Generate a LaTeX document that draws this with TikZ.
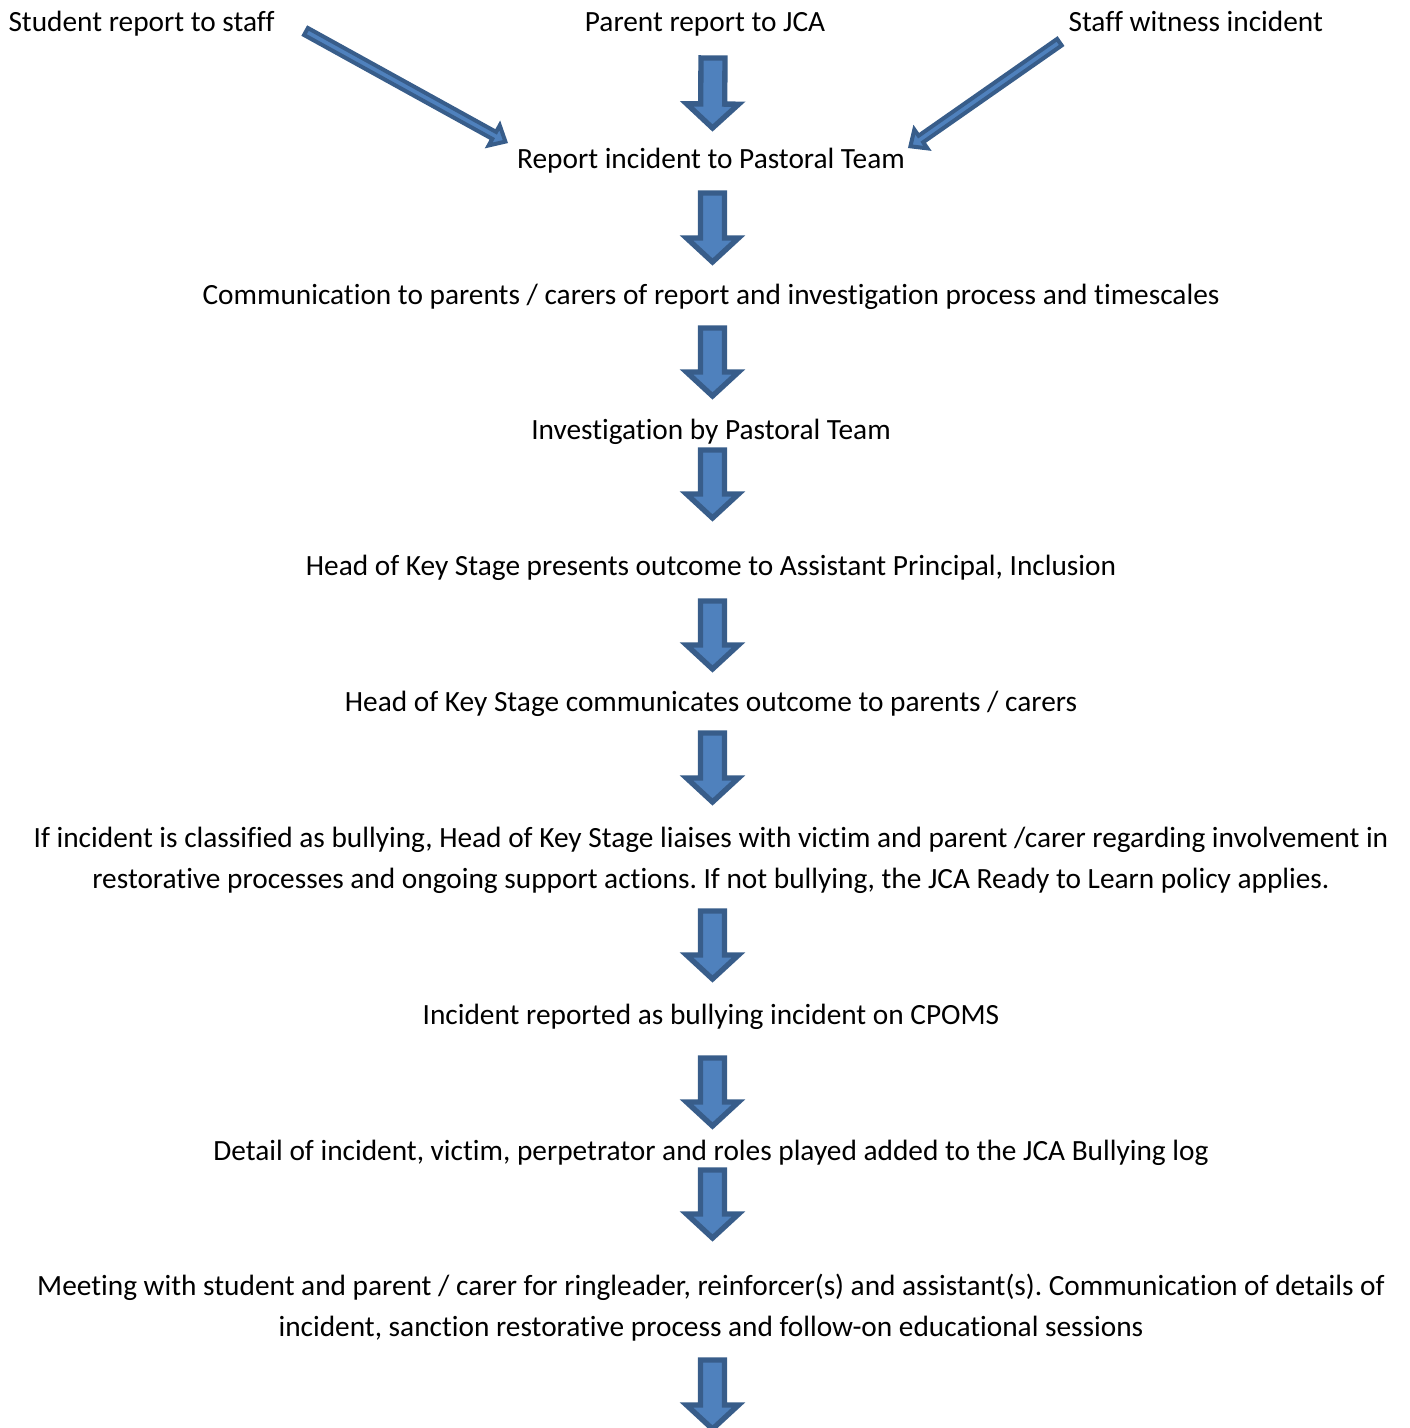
\documentclass[tikz,border=0pt]{standalone}
\usepackage{fontspec}
\setmainfont{Carlito}[Ligatures=NoCommon]
\usepackage{tikz}
\usetikzlibrary{calc}
\definecolor{arrowfill}{HTML}{4F81BD}
\definecolor{arrowline}{HTML}{385D8A}
\def\arrsw{4.5pt}
\def\arrhw{9.75pt}
\def\arrhl{9pt}
\frenchspacing
\tikzset{
	txt/.style={font=\fontsize{11}{15.375}\selectfont, inner sep=0pt, align=center, anchor=base},
	blk/.style={draw=arrowline, fill=arrowfill, line width=2pt, line join=miter,
		to path={let \p1=(\tikztostart), \p2=(\tikztotarget),
			\n1={atan2(\y2-\y1,\x2-\x1)}, \n2={\n1+90} in
			($(\p1)+(\n2:\arrsw)$)
			-- ($(\p2)+(\n1:-\arrhl)+(\n2:\arrsw)$)
			-- ($(\p2)+(\n1:-\arrhl)+(\n2:\arrhw)$)
			-- (\p2)
			-- ($(\p2)+(\n1:-\arrhl)+(\n2:-\arrhw)$)
			-- ($(\p2)+(\n1:-\arrhl)+(\n2:-\arrsw)$)
			-- ($(\p1)+(\n2:-\arrsw)$) -- cycle}},
	thin/.style={line width=1.5pt, /utils/exec={\def\arrsw{1.5pt}\def\arrhw{4.3pt}\def\arrhl{4.8pt}}}
}
\begin{document}
\begin{tikzpicture}[x=0.375pt, y=-0.375pt]
	\useasboundingbox (0,0) rectangle (1410,1428);
	\clip (0,0) rectangle (1410,1428);
	\node[txt, anchor=base west] (r0a) at (8,31) {Student report to staff};
	\node[txt] (r0b) at (705,31) {Parent report to JCA};
	\node[txt, anchor=base west] (r0c) at (1068,31) {Staff witness incident};
	\node[txt] (r1) at (711,168) {Report incident to Pastoral Team};
	\node[txt] (r2) at (711,304) {Communication to parents / carers of report and investigation process and timescales};
	\node[txt] (r3) at (711,439) {Investigation by Pastoral Team};
	\node[txt] (r4) at (711,575) {Head of Key Stage presents outcome to Assistant Principal, Inclusion};
	\node[txt] (r5) at (711,711) {Head of Key Stage communicates outcome to parents / carers};
	\node[txt] (r6) at (711,888) {If incident is classified as bullying, Head of Key Stage liaises with victim and parent /carer regarding involvement in\\restorative processes and ongoing support actions. If not bullying, the JCA Ready to Learn policy applies.};
	\node[txt] (r7) at (711,1024) {Incident reported as bullying incident on CPOMS};
	\node[txt] (r8) at (711,1160) {Detail of incident, victim, perpetrator and roles played added to the JCA Bullying log};
	\node[txt] (r9) at (711,1336) {Meeting with student and parent / carer for ringleader, reinforcer(s) and assistant(s). Communication of details of\\incident, sanction restorative process and follow-on educational sessions};
	\coordinate (r10) at (712.5,1429);
	\draw[blk, thin] ($(r0a.base west)+(298,0.5)$) to ($(r1.base)+(-205.6,-26.4)$);
	\draw[blk, thin] ($(r0c.base west)+(-8.6,11.2)$) to ($(r1.base)+(199.4,-21.7)$);
	\draw[blk] ($(r0b.base)+(8,27)$) to ($(r1.base)+(1.5,-40)$);
	\draw[blk] ($(r1.base)+(1.5,25)$) to ($(r2.base)+(1.5,-42)$);
	\draw[blk] ($(r2.base)+(1.5,24)$) to ($(r3.base)+(1.5,-43)$);
	\draw[blk] ($(r3.base)+(1.5,11)$) to ($(r4.base)+(1.5,-57)$);
	\draw[blk] ($(r4.base)+(1.5,26)$) to ($(r5.base)+(1.5,-42)$);
	\draw[blk] ($(r5.base)+(1.5,22)$) to ($(r6.base)+(1.5,-86)$);
	\draw[blk] ($(r6.base)+(1.5,23)$) to ($(r7.base)+(1.5,-45)$);
	\draw[blk] ($(r7.base)+(1.5,34)$) to ($(r8.base)+(1.5,-34)$);
	\draw[blk] ($(r8.base)+(1.5,10)$) to ($(r9.base)+(1.5,-98)$);
	\draw[blk] ($(r9.base)+(1.5,24)$) to (r10);
\end{tikzpicture}
\end{document}
